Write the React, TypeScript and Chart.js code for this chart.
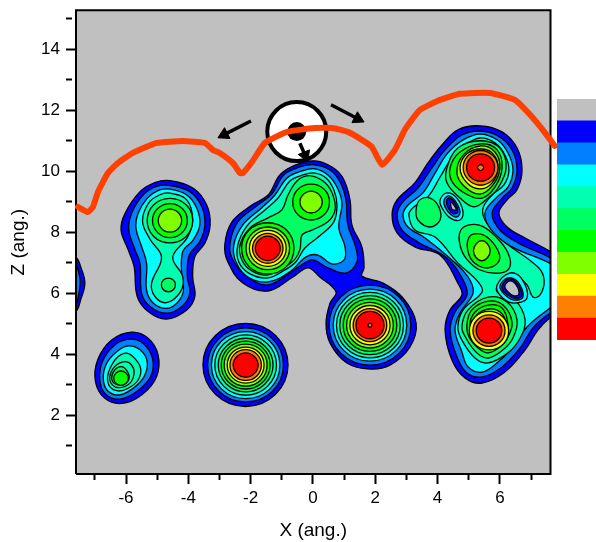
import React, { useEffect, useRef } from "react";
import { Chart, registerables } from "chart.js";

Chart.register(...registerables);

type Contour = [number, number[]];

const levelColors = ["#c0c0c0", "#0000ff", "#0080ff", "#00ffff", "#00ffb0", "#00ff60", "#00ff00", "#80ff00", "#ffff00", "#ff8000", "#ff0000"];
const xRange = [-7.605, 7.624];
const zRange = [0.066, 15.28];
const xTicks = [-7, -6, -5, -4, -3, -2, -1, 0, 1, 2, 3, 4, 5, 6, 7];
const zTicks = [1, 2, 3, 4, 5, 6, 7, 8, 9, 10, 11, 12, 13, 14, 15];

const blobA: Contour[] = [
  [1, [-8.1, 7.19, -7.63, 7.19, -7.45, 6.85, -7.32, 6.33, -7.45, 5.8, -7.63, 5.38, -8.1, 5.38]],
  [2, [-8.1, 6.92, -7.63, 6.92, -7.5, 6.6, -7.47, 6.33, -7.52, 5.95, -7.63, 5.62, -8.1, 5.62]],
];

const blobB: Contour[] = [
  [1, [-4.59, 9.69, -3.84, 9.44, -3.41, 8.89, -3.3, 8.24, -3.47, 7.64, -3.79, 7.2, -3.86, 6.54, -3.79, 5.89, -4.05, 5.45, -4.7, 5.15, -5.28, 5.39, -5.64, 5.89, -5.74, 6.87, -5.93, 7.42, -6.16, 8.07, -6.03, 8.62, -5.55, 9.33, -5.07, 9.63]],
  [2, [-4.59, 9.53, -3.95, 9.33, -3.57, 8.84, -3.47, 8.24, -3.63, 7.69, -3.97, 7.25, -4.03, 6.54, -3.95, 6.0, -4.21, 5.56, -4.7, 5.34, -5.23, 5.56, -5.5, 6.0, -5.55, 6.98, -5.71, 7.42, -5.91, 8.07, -5.82, 8.62, -5.45, 9.22, -5.02, 9.5]],
  [3, [-4.59, 9.41, -4.05, 9.22, -3.73, 8.79, -3.63, 8.24, -3.84, 7.75, -4.18, 7.36, -4.21, 6.54, -4.16, 6.05, -4.37, 5.67, -4.7, 5.5, -5.12, 5.67, -5.34, 6.1, -5.34, 6.98, -5.5, 7.53, -5.68, 8.13, -5.61, 8.62, -5.32, 9.11, -4.96, 9.37]],
  [4, [-4.59, 9.28, -4.05, 9.06, -3.86, 8.4, -4.03, 7.83, -4.5, 7.18, -4.18, 6.54, -4.25, 6.05, -4.7, 5.69, -5.07, 5.89, -5.18, 6.32, -4.86, 7.18, -5.23, 7.77, -5.47, 8.35, -5.28, 8.95, -4.93, 9.22]],
  [5, [-3.86, 8.38, -4.07, 8.9, -4.59, 9.11, -5.11, 8.9, -5.32, 8.38, -5.11, 7.86, -4.59, 7.65, -4.07, 7.86]],
  [6, [-4.03, 8.38, -4.195, 8.775, -4.59, 8.94, -4.985, 8.775, -5.15, 8.38, -4.985, 7.985, -4.59, 7.82, -4.195, 7.985]],
  [7, [-4.215, 8.38, -4.325, 8.645, -4.59, 8.755, -4.855, 8.645, -4.965, 8.38, -4.855, 8.115, -4.59, 8.005, -4.325, 8.115]],
  [5, [-4.415, 6.27, -4.48, 6.43, -4.64, 6.495, -4.8, 6.43, -4.865, 6.27, -4.8, 6.11, -4.64, 6.045, -4.48, 6.11]],
];

const blobF: Contour[] = [
  [1, [-5.82, 4.72, -5.29, 4.52, -4.97, 3.97, -5.02, 3.26, -5.5, 2.66, -6.14, 2.38, -6.68, 2.55, -6.98, 3.1, -6.91, 3.81, -6.46, 4.46]],
  [2, [-5.88, 4.49, -5.45, 4.35, -5.15, 3.86, -5.21, 3.26, -5.66, 2.77, -6.2, 2.52, -6.66, 2.69, -6.84, 3.15, -6.76, 3.75, -6.36, 4.3]],
  [3, [-5.93, 4.27, -5.55, 4.14, -5.32, 3.75, -5.42, 3.26, -5.77, 2.88, -6.2, 2.66, -6.59, 2.8, -6.73, 3.21, -6.62, 3.7, -6.3, 4.08]],
  [4, [-5.98, 4.03, -5.72, 3.86, -5.53, 3.53, -5.61, 3.15, -5.93, 2.88, -6.25, 2.79, -6.52, 2.93, -6.59, 3.26, -6.46, 3.64, -6.25, 3.92]],
  [4, [-6.04, 3.75, -5.82, 3.64, -5.74, 3.37, -5.88, 3.04, -6.2, 2.9, -6.44, 2.99, -6.52, 3.26, -6.36, 3.59]],
  [5, [-6.14, 3.59, -5.95, 3.42, -5.91, 3.17, -6.09, 3.01, -6.34, 3.02, -6.46, 3.21, -6.36, 3.48]],
  [6, [-5.925, 3.21, -5.995, 3.375, -6.16, 3.445, -6.325, 3.375, -6.395, 3.21, -6.325, 3.045, -6.16, 2.975, -5.995, 3.045]],
];

const blobG: Contour[] = [
  [1, [-0.8, 3.64, -1.2, 4.61, -2.16, 5.01, -3.13, 4.61, -3.53, 3.64, -3.13, 2.68, -2.16, 2.28, -1.2, 2.68]],
  [2, [-0.95, 3.64, -1.3, 4.5, -2.16, 4.86, -3.02, 4.5, -3.38, 3.64, -3.02, 2.78, -2.16, 2.43, -1.3, 2.78]],
  [3, [-1.06, 3.64, -1.38, 4.42, -2.16, 4.74, -2.94, 4.42, -3.26, 3.64, -2.94, 2.86, -2.16, 2.54, -1.38, 2.86]],
  [4, [-1.17, 3.64, -1.46, 4.34, -2.16, 4.63, -2.86, 4.34, -3.15, 3.64, -2.86, 2.94, -2.16, 2.65, -1.46, 2.94]],
  [5, [-1.28, 3.64, -1.54, 4.26, -2.16, 4.52, -2.78, 4.26, -3.04, 3.64, -2.78, 3.02, -2.16, 2.76, -1.54, 3.02]],
  [6, [-1.375, 3.64, -1.605, 4.195, -2.16, 4.425, -2.715, 4.195, -2.945, 3.64, -2.715, 3.085, -2.16, 2.855, -1.605, 3.085]],
  [7, [-1.47, 3.64, -1.67, 4.13, -2.16, 4.33, -2.65, 4.13, -2.85, 3.64, -2.65, 3.15, -2.16, 2.95, -1.67, 3.15]],
  [8, [-1.57, 3.64, -1.74, 4.06, -2.16, 4.23, -2.58, 4.06, -2.75, 3.64, -2.58, 3.22, -2.16, 3.05, -1.74, 3.22]],
  [9, [-1.655, 3.64, -1.8, 4.0, -2.16, 4.145, -2.52, 4.0, -2.665, 3.64, -2.52, 3.28, -2.16, 3.135, -1.8, 3.28]],
  [10, [-1.76, 3.64, -1.88, 3.92, -2.16, 4.04, -2.44, 3.92, -2.56, 3.64, -2.44, 3.36, -2.16, 3.24, -1.88, 3.36]],
];

const blobC: Contour[] = [
  [1, [0.06, 10.34, 0.61, 10.14, 0.96, 9.78, 1.19, 9.06, 1.25, 8.24, 1.57, 7.52, 1.64, 6.83, 1.57, 6.56, 2.25, 6.33, 2.89, 5.84, 3.31, 5.02, 3.11, 4.23, 2.47, 3.64, 1.83, 3.51, 1.09, 3.71, 0.55, 4.36, 0.42, 5.02, 0.55, 5.68, 0.74, 6.04, 0.22, 6.53, -0.16, 6.83, -0.64, 6.53, -1.44, 6.07, -2.25, 6.33, -2.73, 7.02, -2.83, 7.58, -2.6, 8.34, -1.96, 8.89, -1.44, 9.22, -1.06, 9.88, -0.55, 10.21]],
  [2, [0.06, 10.21, 0.55, 10.04, 0.87, 9.65, 1.06, 9.06, 1.12, 8.24, 1.38, 7.48, 1.41, 7.02, 1.06, 6.66, 0.48, 6.83, -0.03, 7.09, -0.51, 6.83, -1.44, 6.27, -2.18, 6.6, -2.6, 7.15, -2.66, 7.65, -2.41, 8.34, -1.77, 8.89, -1.32, 9.25, -0.93, 9.88, -0.42, 10.14]],
  [3, [0.06, 10.08, 0.48, 9.88, 0.77, 9.48, 0.93, 8.96, 0.83, 8.14, 1.03, 7.52, 1.0, 7.09, 0.61, 6.96, 0.16, 7.25, -0.22, 7.19, -0.74, 6.7, -1.44, 6.37, -2.09, 6.53, -2.47, 7.02, -2.54, 7.58, -2.25, 8.24, -1.64, 8.8, -1.22, 9.22, -0.83, 9.78, -0.35, 10.01]],
  [4, [0.06, 9.94, 0.42, 9.78, 0.67, 9.39, 0.77, 8.89, 0.67, 8.34, 0.22, 7.88, -0.26, 7.48, -0.55, 7.02, -0.9, 6.76, -1.44, 6.5, -2.02, 6.63, -2.38, 7.02, -2.41, 7.58, -2.12, 8.2, -1.54, 8.73, -1.12, 9.12, -0.74, 9.68, -0.32, 9.88]],
  [5, [-0.06, 9.85, 0.39, 9.62, 0.64, 9.22, 0.71, 8.73, 0.48, 8.34, -0.03, 8.07, -0.35, 7.91, -0.42, 7.42, -0.67, 7.02, -1.44, 6.6, -1.96, 6.73, -2.28, 7.09, -2.34, 7.58, -2.02, 8.14, -1.44, 8.47, -1.0, 8.73, -0.8, 9.22, -0.48, 9.71]],
  [6, [0.53, 8.99, 0.36, 9.41, -0.06, 9.58, -0.48, 9.41, -0.65, 8.99, -0.48, 8.57, -0.06, 8.4, 0.36, 8.57]],
  [7, [0.3, 8.99, 0.19, 9.24, -0.06, 9.35, -0.31, 9.24, -0.42, 8.99, -0.31, 8.74, -0.06, 8.63, 0.19, 8.74]],
  [6, [-0.61, 7.47, -0.85, 8.07, -1.45, 8.31, -2.05, 8.07, -2.29, 7.47, -2.05, 6.87, -1.45, 6.63, -0.85, 6.87]],
  [7, [-0.75, 7.47, -0.955, 7.965, -1.45, 8.17, -1.945, 7.965, -2.15, 7.47, -1.945, 6.975, -1.45, 6.77, -0.955, 6.975]],
  [8, [-0.86, 7.47, -1.03, 7.89, -1.45, 8.06, -1.87, 7.89, -2.04, 7.47, -1.87, 7.05, -1.45, 6.88, -1.03, 7.05]],
  [9, [-0.96, 7.47, -1.105, 7.815, -1.45, 7.96, -1.795, 7.815, -1.94, 7.47, -1.795, 7.125, -1.45, 6.98, -1.105, 7.125]],
  [10, [-1.05, 7.47, -1.17, 7.75, -1.45, 7.87, -1.73, 7.75, -1.85, 7.47, -1.73, 7.19, -1.45, 7.07, -1.17, 7.19]],
];

const blobD: Contour[] = [
  [2, [3.14, 4.95, 2.76, 5.88, 1.83, 6.26, 0.9, 5.88, 0.52, 4.95, 0.9, 4.02, 1.83, 3.64, 2.76, 4.02]],
  [3, [3.01, 4.95, 2.665, 5.785, 1.83, 6.13, 0.995, 5.785, 0.65, 4.95, 0.995, 4.115, 1.83, 3.77, 2.665, 4.115]],
  [4, [2.905, 4.95, 2.59, 5.71, 1.83, 6.025, 1.07, 5.71, 0.755, 4.95, 1.07, 4.19, 1.83, 3.875, 2.59, 4.19]],
  [5, [2.8, 4.95, 2.515, 5.635, 1.83, 5.92, 1.145, 5.635, 0.86, 4.95, 1.145, 4.265, 1.83, 3.98, 2.515, 4.265]],
  [6, [2.69, 4.95, 2.44, 5.56, 1.83, 5.81, 1.22, 5.56, 0.97, 4.95, 1.22, 4.34, 1.83, 4.09, 2.44, 4.34]],
  [7, [2.58, 4.95, 2.36, 5.48, 1.83, 5.7, 1.3, 5.48, 1.08, 4.95, 1.3, 4.42, 1.83, 4.2, 2.36, 4.42]],
  [8, [2.475, 4.95, 2.285, 5.405, 1.83, 5.595, 1.375, 5.405, 1.185, 4.95, 1.375, 4.495, 1.83, 4.305, 2.285, 4.495]],
  [9, [2.37, 4.95, 2.21, 5.33, 1.83, 5.49, 1.45, 5.33, 1.29, 4.95, 1.45, 4.57, 1.83, 4.41, 2.21, 4.57]],
  [10, [2.28, 4.95, 2.15, 5.27, 1.83, 5.4, 1.51, 5.27, 1.38, 4.95, 1.51, 4.63, 1.83, 4.5, 2.15, 4.63]],
  [9, [1.895, 4.95, 1.83, 5.015, 1.765, 4.95, 1.83, 4.885]],
];

const blobE: Contour[] = [
  [1, [5.36, 11.49, 6.07, 11.29, 6.55, 10.76, 6.71, 10.04, 6.55, 9.39, 6.23, 9.06, 5.97, 8.63, 6.23, 8.17, 6.81, 7.81, 7.64, 7.35, 8.41, 6.76, 8.41, 5.78, 7.61, 5.19, 7.22, 4.79, 6.81, 4.14, 6.16, 3.41, 5.43, 3.05, 4.88, 3.22, 4.46, 3.81, 4.24, 4.79, 4.4, 5.45, 4.78, 5.94, 4.65, 6.33, 4.08, 7.25, 3.27, 7.52, 2.7, 7.98, 2.54, 8.57, 2.7, 9.06, 3.27, 9.62, 3.69, 10.27, 4.14, 10.86, 4.65, 11.36]],
  [2, [5.36, 11.32, 5.94, 11.16, 6.39, 10.7, 6.55, 10.04, 6.39, 9.45, 6.07, 9.12, 5.75, 8.63, 6.0, 8.07, 6.58, 7.65, 7.64, 7.15, 8.41, 6.6, 8.41, 5.94, 7.61, 5.35, 7.06, 4.86, 6.65, 4.2, 6.07, 3.58, 5.43, 3.25, 4.94, 3.38, 4.62, 3.91, 4.4, 4.79, 4.56, 5.38, 4.94, 5.94, 4.82, 6.43, 4.3, 7.15, 3.37, 7.68, 2.86, 8.07, 2.7, 8.57, 2.86, 8.96, 3.37, 9.45, 3.82, 10.11, 4.24, 10.7, 4.78, 11.19]],
  [3, [5.36, 11.22, 5.91, 11.03, 6.26, 10.6, 6.42, 10.04, 6.26, 9.48, 5.91, 9.16, 5.52, 8.63, 5.78, 7.98, 6.39, 7.52, 7.64, 6.96, 8.41, 6.43, 8.41, 6.1, 7.61, 5.51, 6.87, 4.89, 6.42, 4.23, 5.94, 3.74, 5.43, 3.41, 4.98, 3.58, 4.78, 4.07, 4.56, 4.79, 4.72, 5.35, 5.14, 6.01, 4.98, 6.53, 4.46, 7.09, 3.6, 7.81, 3.05, 8.17, 2.89, 8.57, 3.05, 8.89, 3.53, 9.29, 3.92, 9.94, 4.33, 10.6, 4.82, 11.03]],
  [4, [5.36, 11.09, 5.84, 10.93, 6.16, 10.53, 6.29, 10.04, 6.13, 9.55, 5.75, 9.22, 5.46, 8.8, 5.52, 8.4, 5.94, 7.84, 7.22, 6.86, 7.42, 6.43, 7.29, 5.94, 7.06, 5.87, 6.87, 6.27, 6.39, 6.66, 6.0, 6.37, 5.91, 6.04, 6.48, 5.78, 6.81, 5.12, 6.65, 4.53, 6.26, 4.04, 5.62, 3.71, 5.2, 3.87, 4.78, 4.46, 4.65, 4.89, 4.82, 5.45, 5.43, 6.04, 5.3, 6.37, 4.65, 6.99, 3.92, 7.84, 3.27, 8.07, 3.08, 8.57, 3.21, 8.8, 3.69, 9.16, 4.08, 9.81, 4.46, 10.44, 4.88, 10.86]],
  [5, [5.38, 11.0, 6.0, 10.76, 6.2, 10.11, 5.94, 9.45, 5.62, 9.12, 5.17, 8.83, 4.72, 9.12, 4.3, 9.62, 4.3, 10.11, 4.65, 10.76]],
  [6, [5.39, 10.9, 5.91, 10.7, 6.07, 10.11, 5.84, 9.48, 5.43, 9.12, 4.98, 9.22, 4.49, 9.62, 4.4, 10.11, 4.72, 10.63]],
  [7, [5.39, 10.83, 5.84, 10.63, 6.0, 10.11, 5.78, 9.55, 5.36, 9.25, 4.88, 9.48, 4.62, 9.94, 4.82, 10.53]],
  [8, [5.39, 10.73, 5.78, 10.57, 5.94, 10.11, 5.75, 9.62, 5.36, 9.42, 4.94, 9.62, 4.72, 10.11, 4.94, 10.57]],
  [9, [5.94, 10.12, 5.775, 10.515, 5.38, 10.68, 4.985, 10.515, 4.82, 10.12, 4.985, 9.725, 5.38, 9.54, 5.775, 9.725]],
  [10, [5.83, 10.12, 5.7, 10.44, 5.38, 10.57, 5.06, 10.44, 4.93, 10.12, 5.06, 9.8, 5.38, 9.67, 5.7, 9.8]],
  [9, [5.48, 10.12, 5.38, 10.22, 5.28, 10.12, 5.38, 10.02]],
  [5, [3.76, 9.12, 4.04, 8.83, 4.08, 8.4, 3.76, 8.17, 3.37, 8.4, 3.31, 8.73, 3.43, 9.06]],
  [5, [4.72, 8.01, 4.98, 8.23, 5.43, 8.2, 5.91, 7.81, 6.26, 7.32, 6.32, 6.86, 6.0, 6.66, 5.36, 6.76, 4.91, 7.15, 4.72, 7.58]],
  [6, [5.01, 7.84, 5.39, 7.94, 5.78, 7.65, 6.0, 7.15, 5.75, 6.86, 5.33, 6.89, 5.01, 7.25]],
  [7, [5.69, 7.39, 5.6, 7.62, 5.42, 7.72, 5.24, 7.62, 5.15, 7.39, 5.24, 7.16, 5.42, 7.06, 5.6, 7.16]],
  [5, [5.62, 5.87, 6.23, 5.71, 6.55, 5.12, 6.42, 4.53, 6.1, 4.14, 5.62, 3.87, 5.26, 4.04, 4.91, 4.53, 4.78, 4.89, 4.98, 5.45]],
  [6, [5.62, 5.74, 6.1, 5.61, 6.39, 5.05, 6.26, 4.56, 6.0, 4.23, 5.62, 4.04, 5.3, 4.2, 5.01, 4.56, 4.94, 4.96, 5.1, 5.45]],
  [6, [5.62, 5.61, 6.07, 5.51, 6.26, 4.96, 6.16, 4.53, 5.62, 4.17, 5.2, 4.46, 5.04, 4.96, 5.2, 5.38]],
  [7, [5.65, 5.48, 6.07, 5.32, 6.23, 4.76, 6.0, 4.36, 5.65, 4.23, 5.26, 4.4, 5.07, 4.79, 5.23, 5.25]],
  [8, [6.28, 4.77, 6.1, 5.22, 5.65, 5.4, 5.2, 5.22, 5.02, 4.77, 5.2, 4.32, 5.65, 4.14, 6.1, 4.32]],
  [9, [6.165, 4.77, 6.015, 5.135, 5.65, 5.285, 5.285, 5.135, 5.135, 4.77, 5.285, 4.405, 5.65, 4.255, 6.015, 4.405]],
  [10, [6.06, 4.77, 5.94, 5.06, 5.65, 5.18, 5.36, 5.06, 5.24, 4.77, 5.36, 4.48, 5.65, 4.36, 5.94, 4.48]],
  [3, [4.08, 9.06, 4.3, 9.29, 4.62, 9.12, 4.82, 8.66, 4.72, 8.4, 4.4, 8.47, 4.14, 8.8]],
  [2, [4.21, 9.06, 4.37, 9.19, 4.59, 8.99, 4.72, 8.66, 4.62, 8.5, 4.43, 8.57, 4.24, 8.83]],
  [1, [4.3, 9.06, 4.4, 9.12, 4.56, 8.96, 4.65, 8.66, 4.53, 8.6, 4.43, 8.66, 4.3, 8.89]],
  [0, [4.43, 8.99, 4.56, 8.83, 4.59, 8.73, 4.46, 8.76]],
  [3, [5.91, 6.27, 6.32, 6.66, 6.68, 6.5, 6.87, 5.84, 6.39, 5.68, 6.0, 5.94]],
  [2, [6.0, 6.24, 6.26, 6.5, 6.58, 6.37, 6.74, 5.87, 6.42, 5.78, 6.1, 6.01]],
  [1, [6.07, 6.24, 6.29, 6.47, 6.55, 6.33, 6.71, 5.91, 6.45, 5.84, 6.13, 6.04]],
  [0, [6.16, 6.24, 6.32, 6.4, 6.52, 6.27, 6.61, 5.97, 6.45, 5.91, 6.23, 6.07]],
];

const surfaceLine = [-7.54, 8.83, -7.22, 8.66, -7.06, 8.83, -6.9, 9.32, -6.58, 9.94, -6.26, 10.27, -5.78, 10.6, -5.01, 10.93, -4.17, 10.99, -3.47, 10.93, -3.21, 10.7, -2.99, 10.6, -2.57, 10.27, -2.34, 9.94, -2.25, 9.94, -1.96, 10.3, -1.54, 10.93, -0.83, 11.29, 0.06, 11.42, 0.61, 11.42, 1.12, 11.29, 1.57, 11.03, 1.89, 10.8, 2.22, 10.21, 2.63, 10.7, 2.95, 11.36, 3.43, 12.01, 4.08, 12.34, 4.72, 12.54, 5.68, 12.57, 6.48, 12.34, 6.97, 11.85, 7.45, 11.26, 7.76, 10.83];
const atom = [-0.52, 11.3];
const arrowLeft = [-1.99, 11.65, -2.85, 11.2];
const arrowRight = [0.58, 12.18, 1.44, 11.72];
const arrowDown = [-0.42, 10.92, -0.25, 10.52];
const legendSteps = [1, 1, 1, 1, 1, 1, 1, 1, 1, 1, 1];
const FONT = "'Liberation Sans', Arial, sans-serif";

const pairs = (flat: number[]) => {
  const out: { x: number; y: number }[] = [];
  for (let i = 0; i < flat.length; i += 2) out.push({ x: flat[i], y: flat[i + 1] });
  return out;
};

const contourSet = (c: Contour) => ({
  data: pairs(c[1]),
  closedLoop: true,
  showLine: true,
  fill: "shape",
  backgroundColor: levelColors[c[0]],
  borderColor: "#000",
  borderWidth: 1.3,
  tension: 0.38,
  capBezierPoints: false,
  pointRadius: 0,
  pointHitRadius: 0,
});

const closeContours = {
  id: "closeContours",
  afterDatasetUpdate(chart: any, args: any) {
    if (chart.data.datasets[args.index].closedLoop) {
      const line = args.meta.dataset;
      line._loop = true;
      line._fullLoop = true;
      line.points = args.meta.data;
    }
  },
};

const arrowSet = (flat: number[], rotation: number) => ({
  data: pairs(flat),
  showLine: true,
  borderColor: "#000",
  backgroundColor: "#000",
  borderWidth: 3.5,
  tension: 0,
  pointStyle: "triangle",
  pointRadius: [0, 7],
  pointRotation: [0, rotation],
  pointBackgroundColor: "#000",
  pointBorderColor: "#000",
  pointBorderWidth: 1,
  clip: false,
});

const corners = [
  { x: xRange[0], y: zRange[0] },
  { x: xRange[1], y: zRange[0] },
  { x: xRange[1], y: zRange[1] },
  { x: xRange[0], y: zRange[1] },
  { x: xRange[0], y: zRange[0] },
];

const axisCommon = (ticks: number[]) => ({
  type: "linear",
  afterBuildTicks: (s: any) => {
    s.ticks = ticks.map((value) => ({ value }));
  },
  border: { display: false },
  grid: {
    drawOnChartArea: false,
    drawTicks: true,
    tickLength: 10,
    tickWidth: 2,
    tickColor: "#000",
    tickBorderDash: (ctx: any) => (ctx.tick && Math.abs(ctx.tick.value % 2) === 1 ? [6, 100] : []),
  },
});

export default function App() {
  const mainRef = useRef<HTMLCanvasElement>(null);
  const legendRef = useRef<HTMLCanvasElement>(null);

  useEffect(() => {
    const painted: any[] = [
      { data: corners, showLine: true, fill: "shape", backgroundColor: levelColors[0], borderWidth: 0, pointRadius: 0, tension: 0, clip: false },
      ...[...blobA, ...blobB, ...blobF, ...blobG, ...blobC, ...blobD, ...blobE].map(contourSet),
      { data: corners, showLine: true, fill: false, borderColor: "#000", borderWidth: 2, pointRadius: 0, tension: 0, clip: false },
      { data: pairs(atom), showLine: false, pointRadius: 29.5, pointBackgroundColor: "#fff", pointBorderColor: "#000", pointBorderWidth: 4, clip: false },
      { data: pairs(atom), showLine: false, pointRadius: 9.5, pointBackgroundColor: "#000", pointBorderColor: "#000", pointBorderWidth: 0, clip: false },
      arrowSet(arrowLeft, 243),
      arrowSet(arrowRight, 117),
      arrowSet(arrowDown, 158),
      { data: pairs(surfaceLine), showLine: true, borderColor: "#ff4000", borderWidth: 6, tension: 0.15, pointRadius: 0, borderJoinStyle: "round", borderCapStyle: "round", clip: false },
    ];
    const main = new Chart(mainRef.current!, {
      type: "scatter",
      data: { datasets: painted.slice().reverse() },
      plugins: [closeContours],
      options: {
        animation: false,
        responsive: false,
        layout: { autoPadding: false, padding: { top: 10.3, right: 45.5, left: 0, bottom: 0 } },
        plugins: { legend: { display: false }, tooltip: { enabled: false } },
        scales: {
          x: {
            ...axisCommon(xTicks),
            min: xRange[0],
            max: xRange[1],
            afterFit: (s: any) => {
              s.height = 68;
              s.paddingLeft = 0;
              s.paddingRight = 0;
            },
            ticks: {
              autoSkip: false,
              maxRotation: 0,
              padding: 4,
              color: "#000",
              font: { family: FONT, size: 17 },
              callback: (v: any) => (Math.abs(Number(v) % 2) === 1 ? "" : String(v)),
            },
            title: { display: true, text: "X (ang.)", color: "#000", font: { family: FONT, size: 19 }, padding: { top: 0, bottom: 0 } },
          },
          y: {
            ...axisCommon(zTicks),
            min: zRange[0],
            max: zRange[1],
            afterFit: (s: any) => {
              s.width = 76;
              s.paddingTop = 0;
              s.paddingBottom = 0;
            },
            ticks: {
              autoSkip: false,
              padding: 6,
              color: "#000",
              font: { family: FONT, size: 17 },
              callback: (v: any) => (Math.abs(Number(v) % 2) === 1 ? "" : String(v)),
            },
            title: { display: true, text: "Z (ang.)", color: "#000", font: { family: FONT, size: 19 }, padding: { top: 7, bottom: 0 } },
          },
        },
      } as any,
    } as any);

    const legend = new Chart(legendRef.current!, {
      type: "bar",
      data: {
        labels: [""],
        datasets: levelColors
          .slice()
          .reverse()
          .map((c, i) => ({ data: [legendSteps[i]], backgroundColor: c, barPercentage: 1, categoryPercentage: 1, borderWidth: 0 })),
      },
      options: {
        animation: false,
        responsive: false,
        layout: { padding: 0 },
        plugins: { legend: { display: false }, tooltip: { enabled: false } },
        scales: {
          x: { stacked: true, display: false },
          y: { stacked: true, display: false, min: 0, max: 11 },
        },
      },
    } as any);

    return () => {
      main.destroy();
      legend.destroy();
    };
  }, []);

  return (
    <div style={{ position: "absolute", left: 0, top: 0, width: 596, height: 542, background: "#fff", overflow: "hidden" }}>
      <canvas ref={mainRef} width={596} height={542} style={{ position: "absolute", left: 0, top: 0, display: "block" }} />
      <canvas ref={legendRef} width={39} height={241} style={{ position: "absolute", left: 557, top: 99, display: "block" }} />
    </div>
  );
}
